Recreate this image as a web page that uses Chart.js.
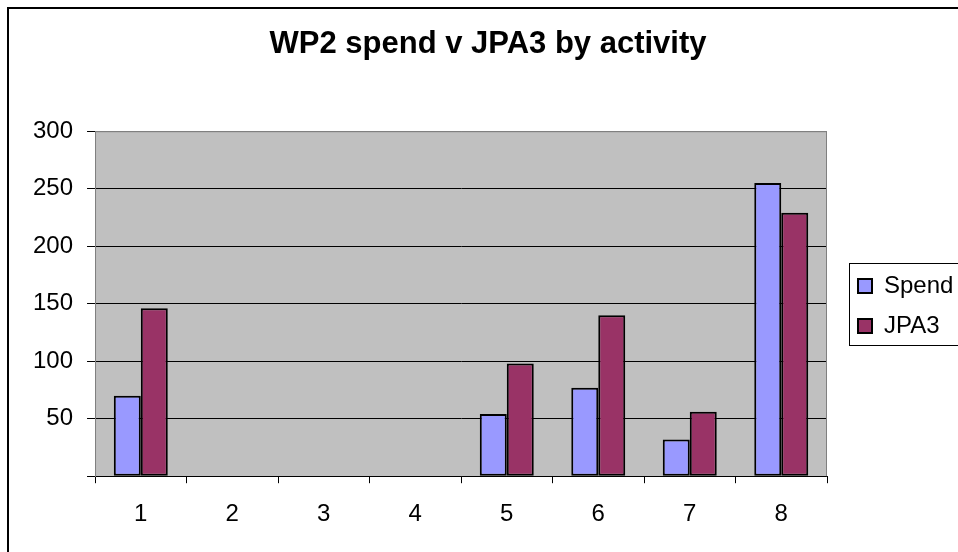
<!DOCTYPE html>
<html>
<head>
<meta charset="utf-8">
<script src="https://cdn.jsdelivr.net/npm/chart.js@4"></script>
<style>
  body { margin: 0; background: #fff; }
  #wrap { position: relative; width: 958px; height: 552px; overflow: hidden; }
  #frame { position: absolute; left: 7px; top: 7px; width: 2000px; height: 2000px;
           border-left: 2px solid #000; border-top: 2px solid #000; pointer-events: none; }
</style>
</head>
<body>
<div id="wrap">
  <canvas id="myChart" width="958" height="552"></canvas>
  <div id="frame"></div>
</div>
<script>
const categories = ['1', '2', '3', '4', '5', '6', '7', '8'];
const spend = [70, null, null, null, 54, 77, 32, 255];
const jpa3 = [146, null, null, null, 98, 140, 56, 229];

const ctx = document.getElementById('myChart').getContext('2d');

Chart.defaults.font.family = "'Liberation Sans', Arial, sans-serif";
Chart.defaults.font.size = 24;
Chart.defaults.color = '#000';

// grey plot area + border, legend frame, legend/title nudge
const plotStyle = {
  id: 'plotStyle',
  beforeDraw(chart) {
    const a = chart.chartArea;
    const c = chart.ctx;
    c.save();
    c.fillStyle = '#c0c0c0';
    c.fillRect(a.left, a.top, a.right - a.left, a.bottom - a.top);
    c.restore();
  },
  afterDatasetsDraw(chart) {
    const a = chart.chartArea;
    const c = chart.ctx;
    c.save();
    c.strokeStyle = '#808080';
    c.lineWidth = 1;
    c.beginPath();
    c.moveTo(a.left + 0.5, a.bottom);
    c.lineTo(a.left + 0.5, a.top + 0.5);
    c.lineTo(a.right - 0.5, a.top + 0.5);
    c.lineTo(a.right - 0.5, a.bottom);
    c.stroke();
    c.restore();
  },
  afterLayout(chart) {
    const lg = chart.legend;
    lg.left += 15;
    lg.right += 80;
    lg.width = lg.right - lg.left;
    lg.top += 33;
    lg.bottom += 33;
    const t = chart.titleBlock;
    t.left += 24;
    t.width = t.right - t.left;
  },
  afterDraw(chart) {
    const boxes = chart.legend.legendHitBoxes;
    if (!boxes || !boxes.length) return;
    const c = chart.ctx;
    const left = boxes[0].left - 9;
    const top = boxes[0].top - 11;
    const last = boxes[boxes.length - 1];
    const bottom = last.top + last.height + 7;
    c.save();
    c.strokeStyle = '#000';
    c.lineWidth = 1;
    c.strokeRect(Math.round(left) + 0.5, Math.round(top) + 0.5, 200, Math.round(bottom - top));
    c.restore();
  }
};

const data = {
  labels: categories,
  datasets: [
    {
      label: 'Spend',
      data: spend,
      backgroundColor: '#9999ff',
      borderColor: '#000',
      borderWidth: 2,
      borderSkipped: false,
    },
    {
      label: 'JPA3',
      data: jpa3,
      backgroundColor: '#993366',
      borderColor: '#000',
      borderWidth: 2,
      borderSkipped: false,
    },
  ],
};

const config = {
  type: 'bar',
  data: data,
  options: {
    responsive: false,
    animation: false,
    layout: {
      padding: { left: 19, right: 25, top: 0, bottom: 6 },
    },
    datasets: {
      bar: { categoryPercentage: 0.59, barPercentage: 1 },
    },
    scales: {
      x: {
        grid: { drawOnChartArea: false, tickLength: 7, tickColor: '#000', offset: true },
        border: { color: '#000', width: 1 },
        ticks: { padding: 17, font: { size: 24 } },
      },
      y: {
        min: 0,
        max: 300,
        grid: {
          tickLength: 8,
          tickColor: '#000',
          color: c => (c.tick && c.tick.value === 300 ? '#808080' : '#000'),
          lineWidth: 1,
        },
        border: { color: '#808080', width: 1 },
        ticks: {
          stepSize: 50,
          padding: 14,
          font: { size: 24 },
          callback: v => (v === 0 ? '' : v),
        },
      },
    },
    plugins: {
      title: {
        display: true,
        text: 'WP2 spend v JPA3 by activity',
        font: { size: 31, weight: 'bold' },
        padding: { top: 26, bottom: 68 },
      },
      legend: {
        position: 'right',
        maxWidth: 106,
        labels: {
          boxWidth: 14,
          boxHeight: 14,
          padding: 16,
          font: { size: 24 },
          color: '#000',
          useBorderRadius: false,
        },
      },
      tooltip: { enabled: false },
    },
  },
  plugins: [plotStyle],
};

const barChart = new Chart(ctx, config);
</script>
</body>
</html>
